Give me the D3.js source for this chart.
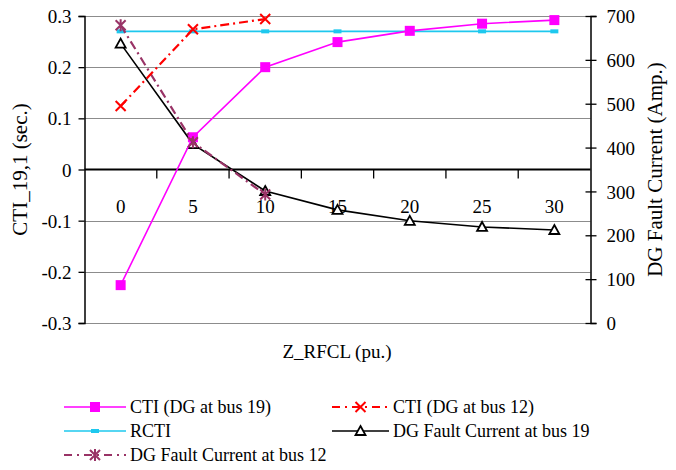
<!DOCTYPE html>
<html><head><meta charset="utf-8">
<script src="https://cdn.jsdelivr.net/npm/d3@7"></script>
<style>body{margin:0;background:#fff}svg{display:block}</style>
</head><body><svg id="c" width="676" height="470"></svg>
<script>
const categories = ["0","5","10","15","20","25","30"];
const ctiBus19 = [-0.226, 0.063, 0.200, 0.249, 0.271, 0.285, 0.292];
const ctiBus12 = [0.124, 0.274, 0.294];
const rcti = [0.27, 0.27, 0.27, 0.27, 0.27, 0.27, 0.27];
const faultBus19 = [637, 408, 301, 258, 233, 219, 212];
const faultBus12 = [679, 412, 293];
const leftTicks = [-0.3,-0.2,-0.1,0,0.1,0.2,0.3];
const rightTicks = [0,100,200,300,400,500,600,700];

const FONT = "Liberation Serif";
const svg = d3.select("#c");
const L = 84.5, R = 590.5, T = 16, B = 323;
const x = d3.scaleBand().domain(categories).range([L, R]).padding(0);
const cx = c => x(c) + x.bandwidth()/2;
const yL = d3.scaleLinear().domain([-0.3,0.3]).range([B,T]);
const yR = d3.scaleLinear().domain([0,700]).range([B,T]);

// gridlines
svg.append("g").selectAll("line").data(leftTicks.filter(d=>d!==0)).join("line")
  .attr("x1",L).attr("x2",R).attr("y1",d=>Math.round(yL(d))+0.5).attr("y2",d=>Math.round(yL(d))+0.5)
  .attr("stroke","#8c8c8c").attr("stroke-width",1.2);

// left axis
const gl = svg.append("g").attr("transform",`translate(${L},0)`)
  .call(d3.axisLeft(yL).tickValues(leftTicks).tickSize(6).tickFormat(d=>d===0?"0":d.toFixed(1)));
gl.select(".domain").attr("stroke","#000").attr("stroke-width",1.5);
gl.selectAll(".tick line").attr("stroke","#000").attr("stroke-width",1.3);
gl.selectAll(".tick text").attr("font-family",FONT).attr("font-size",19).attr("x",-13).attr("dy","0.35em").attr("fill","#000");

// right axis
const gr = svg.append("g").attr("transform",`translate(${R},0)`)
  .call(d3.axisRight(yR).tickValues(rightTicks).tickSize(6).tickFormat(d=>String(d)));
gr.select(".domain").attr("stroke","#000").attr("stroke-width",1.5);
gr.selectAll(".tick line").attr("stroke","#000").attr("stroke-width",1.3).attr("x1",-5);
gr.selectAll(".tick text").attr("font-family",FONT).attr("font-size",19).attr("x",16).attr("dy","0.35em").attr("fill","#000");

// x axis at zero
const y0 = yL(0);
svg.append("line").attr("x1",L).attr("x2",R).attr("y1",y0).attr("y2",y0).attr("stroke","#000").attr("stroke-width",2);
svg.append("g").selectAll("line").data(categories.slice(1)).join("line")
  .attr("x1",d=>x(d)).attr("x2",d=>x(d)).attr("y1",y0).attr("y2",y0+9).attr("stroke","#000").attr("stroke-width",1.3);
svg.append("g").selectAll("text").data(categories).join("text")
  .attr("x",d=>cx(d)).attr("y",y0+43).attr("text-anchor","middle").attr("font-family",FONT).attr("font-size",19).text(d=>d);

// titles
svg.append("text").attr("transform",`translate(27,${(T+B)/2}) rotate(-90)`).attr("text-anchor","middle")
  .attr("font-family",FONT).attr("font-size",21).text("CTI_19,1 (sec.)");
svg.append("text").attr("transform",`translate(662,${(T+B)/2}) rotate(-90)`).attr("text-anchor","middle")
  .attr("font-family",FONT).attr("font-size",21).text("DG Fault Current (Amp.)");
svg.append("text").attr("x",337).attr("y",358).attr("text-anchor","middle").attr("font-family",FONT).attr("font-size",19).text("Z_RFCL (pu.)");

// marker helpers
function marker(g, type, px, py, color){
  if(type==="square"){
    g.append("rect").attr("x",px-5).attr("y",py-5).attr("width",10).attr("height",10).attr("fill",color);
  } else if(type==="tri"){
    g.append("path").attr("d",`M${px},${py-5}L${px+5},${py+4}L${px-5},${py+4}Z`).attr("fill","#fff").attr("stroke",color).attr("stroke-width",1.8);
  } else if(type==="x"){
    g.append("path").attr("d",`M${px-5},${py-5}L${px+5},${py+5}M${px-5},${py+5}L${px+5},${py-5}`).attr("stroke",color).attr("stroke-width",2);
  } else if(type==="star"){
    g.append("path").attr("d",`M${px-5},${py-5}L${px+5},${py+5}M${px-5},${py+5}L${px+5},${py-5}M${px},${py-6}L${px},${py+6}`).attr("stroke",color).attr("stroke-width",2);
  } else if(type==="dash"){
    g.append("rect").attr("x",px-4).attr("y",py-2).attr("width",8).attr("height",4).attr("fill",color);
  }
}

const series = [
  {name:"RCTI", vals:rcti, y:yL, color:"#1ec8ee", dash:null, m:"dash", w:1.6},
  {name:"DG Fault Current at bus 19", vals:faultBus19, y:yR, color:"#000", dash:null, m:"tri", w:1.6},
  {name:"CTI (DG at bus 19)", vals:ctiBus19, y:yL, color:"#ff00ff", dash:null, m:"square", w:1.6},
  {name:"DG Fault Current at bus 12", vals:faultBus12, y:yR, color:"#993366", dash:"9,4,2,4", m:"star", w:2.2},
  {name:"CTI (DG at bus 12)", vals:ctiBus12, y:yL, color:"#ff0000", dash:"9,4,2,4", m:"x", w:2.2},
];
series.forEach(s=>{
  const pts = s.vals.map((v,i)=>[cx(categories[i]), s.y(v)]);
  const g = svg.append("g");
  g.append("path").attr("d",d3.line()(pts)).attr("fill","none").attr("stroke",s.color).attr("stroke-width",s.w)
    .attr("stroke-dasharray",s.dash);
  pts.forEach(p=>marker(g,s.m,p[0],p[1],s.color));
});

// legend
const legend = [
  {name:"CTI (DG at bus 19)", color:"#ff00ff", dash:null, m:"square", x:64, y:407, w:1.6},
  {name:"RCTI", color:"#1ec8ee", dash:null, m:"dash", x:64, y:431, w:1.6},
  {name:"DG Fault Current at bus 12", color:"#993366", dash:"8,5,2,5", m:"star", x:64, y:455, w:2.2},
  {name:"CTI (DG at bus 12)", color:"#ff0000", dash:"8,5,2,5", m:"x", x:332, y:407, w:2.2},
  {name:"DG Fault Current at bus 19", color:"#000", dash:null, m:"tri", x:332, y:431, w:1.6},
];
legend.forEach(l=>{
  const g = svg.append("g");
  const len = l.x===64?62:57;
  g.append("line").attr("x1",l.x).attr("x2",l.x+len).attr("y1",l.y).attr("y2",l.y).attr("stroke",l.color)
    .attr("stroke-width",l.w).attr("stroke-dasharray",l.dash);
  marker(g,l.m,l.x+len/2,l.y,l.color);
  g.append("text").attr("x",l.x+len+4).attr("y",l.y).attr("dy","0.35em").attr("font-family",FONT).attr("font-size",18).text(l.name);
});
</script></body></html>
